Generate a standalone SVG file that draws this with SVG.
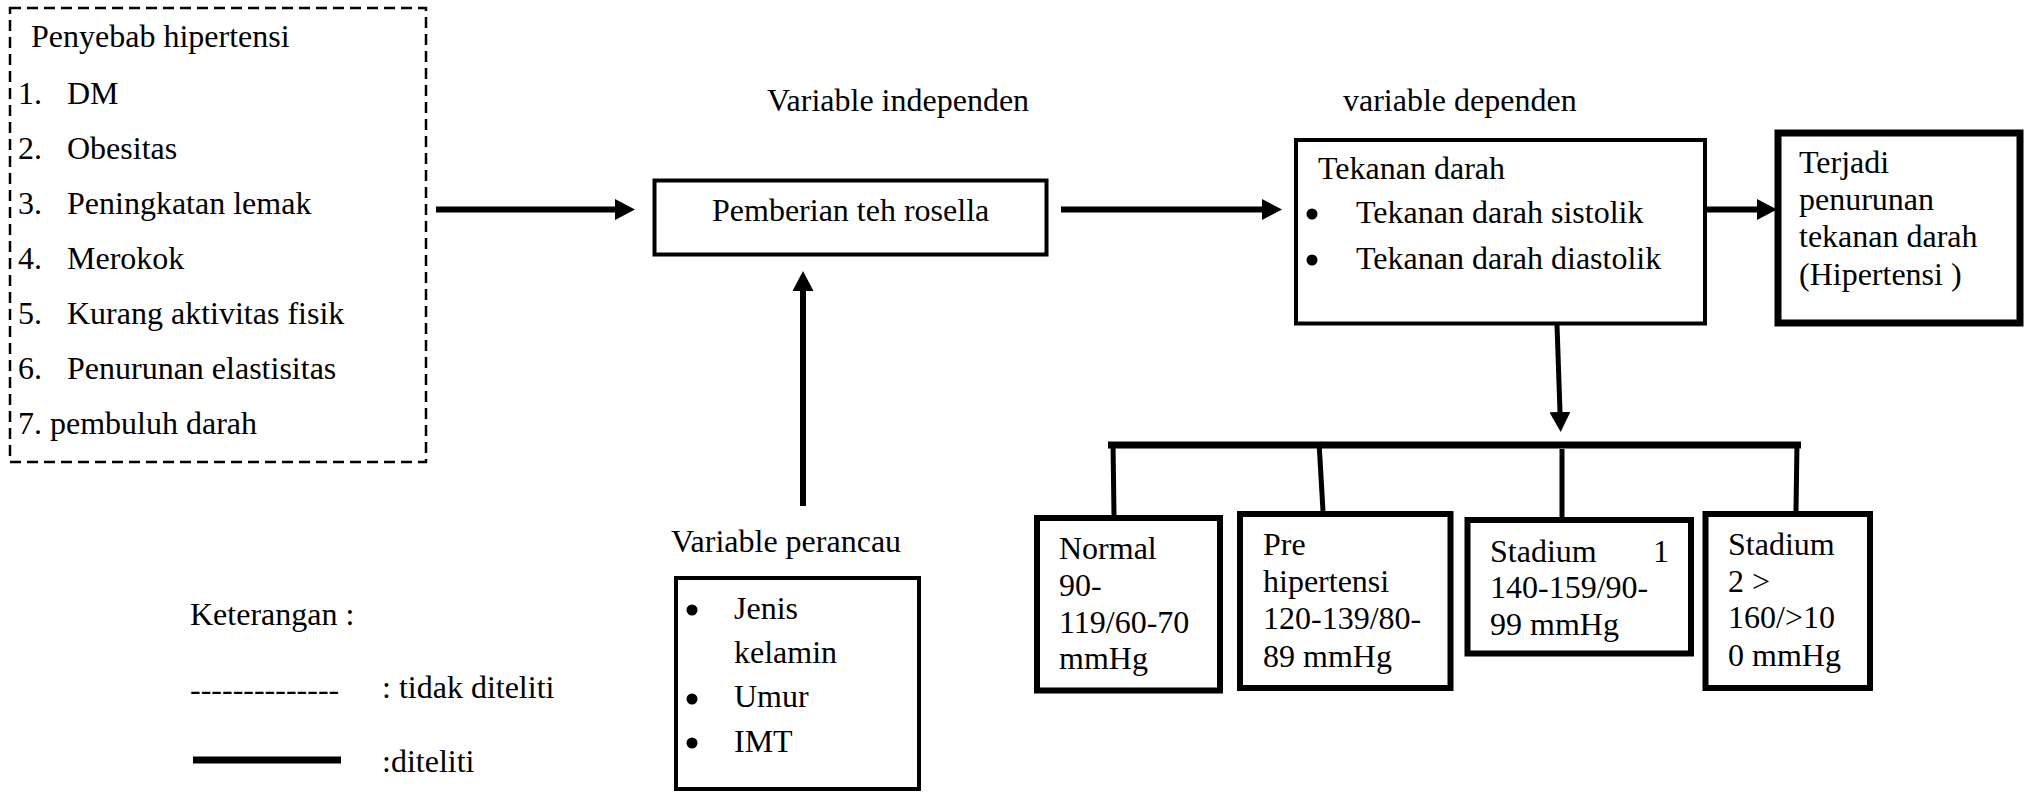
<svg xmlns="http://www.w3.org/2000/svg" width="2033" height="793" viewBox="0 0 2033 793">
<defs>
<style>
text{font-family:"Liberation Serif","Times New Roman",serif;font-size:32px;fill:#000}
.box{fill:#fff;stroke:#000;stroke-width:4}
.thick{fill:#fff;stroke:#000;stroke-width:6}
.dash{fill:#fff;stroke:#000;stroke-width:2.5;stroke-dasharray:11 6}
.conn{fill:none;stroke:#000;stroke-width:6}
.drop{fill:none;stroke:#000;stroke-width:5}
</style>
<marker id="ah" markerUnits="userSpaceOnUse" markerWidth="20" markerHeight="21" refX="0" refY="10.5" orient="auto" viewBox="0 0 20 21">
<path d="M0,0 L20,10.5 L0,21 z" fill="#000"/>
</marker>
</defs>
<rect width="2033" height="793" fill="#fff"/>

<g id="causes">
<rect class="dash" x="10" y="8" width="416" height="454"/>
<text x="31" y="47">Penyebab hipertensi</text>
<text x="18" y="104">1.</text><text x="67" y="104">DM</text>
<text x="18" y="159">2.</text><text x="67" y="159">Obesitas</text>
<text x="18" y="214">3.</text><text x="67" y="214">Peningkatan lemak</text>
<text x="18" y="269">4.</text><text x="67" y="269">Merokok</text>
<text x="18" y="324">5.</text><text x="67" y="324">Kurang aktivitas fisik</text>
<text x="18" y="379">6.</text><text x="67" y="379">Penurunan elastisitas</text>
<text x="18" y="434">7. pembuluh darah</text>
</g>

<g id="labels">
<text x="767" y="111">Variable independen</text>
<text x="1343" y="111">variable dependen</text>
<text x="671" y="552">Variable perancau</text>
</g>

<g id="pemberian">
<rect class="box" x="654.5" y="180.5" width="392" height="74"/>
<text x="712" y="221">Pemberian teh rosella</text>
</g>

<g id="tekanan">
<rect class="box" x="1296" y="140" width="409" height="183.5"/>
<text x="1318" y="179">Tekanan darah</text>
<circle cx="1312" cy="214" r="5.5"/>
<text x="1356" y="223">Tekanan darah sistolik</text>
<circle cx="1312" cy="260" r="5.5"/>
<text x="1356" y="269">Tekanan darah diastolik</text>
</g>

<g id="terjadi">
<rect x="1778" y="133" width="242" height="190" fill="#fff" stroke="#000" stroke-width="7"/>
<text x="1799" y="173">Terjadi</text>
<text x="1799" y="210">penurunan</text>
<text x="1799" y="247">tekanan darah</text>
<text x="1799" y="285">(Hipertensi )</text>
</g>

<g id="perancau">
<rect class="box" x="676" y="578" width="243" height="211"/>
<circle cx="692" cy="610" r="5.5"/>
<text x="734" y="619">Jenis</text>
<text x="734" y="663">kelamin</text>
<circle cx="692" cy="699" r="5.5"/>
<text x="734" y="707">Umur</text>
<circle cx="692" cy="743" r="5.5"/>
<text x="734" y="752">IMT</text>
</g>

<g id="connectors">
<line class="conn" x1="436" y1="209.5" x2="615" y2="209.5" marker-end="url(#ah)"/>
<line class="conn" x1="1061" y1="209.5" x2="1262" y2="209.5" marker-end="url(#ah)"/>
<line class="conn" x1="1705" y1="209.5" x2="1757" y2="209.5" marker-end="url(#ah)"/>
<line class="conn" x1="803" y1="506" x2="803" y2="291" marker-end="url(#ah)"/>
<line class="drop" x1="1557" y1="325" x2="1560" y2="412" marker-end="url(#ah)"/>
<line x1="1108" y1="445" x2="1801" y2="445" stroke="#000" stroke-width="7"/>
<line class="drop" x1="1113" y1="442" x2="1114" y2="515"/>
<line class="drop" x1="1319" y1="442" x2="1323" y2="511"/>
<line class="drop" x1="1562" y1="449" x2="1562" y2="517"/>
<line class="drop" x1="1797" y1="442" x2="1796" y2="511"/>
</g>

<g id="normal">
<rect class="thick" x="1037" y="518" width="183" height="172.5"/>
<text x="1059" y="559">Normal</text>
<text x="1059" y="596">90-</text>
<text x="1059" y="633">119/60-70</text>
<text x="1059" y="669">mmHg</text>
</g>

<g id="pre">
<rect class="thick" x="1240" y="514" width="210.5" height="174"/>
<text x="1263" y="555">Pre</text>
<text x="1263" y="592">hipertensi</text>
<text x="1263" y="629">120-139/80-</text>
<text x="1263" y="667">89 mmHg</text>
</g>

<g id="stadium1">
<rect class="thick" x="1467.5" y="520" width="223.5" height="133.5"/>
<text x="1490" y="562">Stadium</text>
<text x="1653" y="562">1</text>
<text x="1490" y="598">140-159/90-</text>
<text x="1490" y="635">99 mmHg</text>
</g>

<g id="stadium2">
<rect class="thick" x="1705.5" y="514" width="164.5" height="174"/>
<text x="1728" y="555">Stadium</text>
<text x="1728" y="592">2 &gt;</text>
<text x="1728" y="628">160/&gt;10</text>
<text x="1728" y="666">0 mmHg</text>
</g>

<g id="legend">
<text x="190" y="625">Keterangan :</text>
<text x="190" y="700">--------------</text>
<text x="382" y="698">: tidak diteliti</text>
<line x1="193" y1="760" x2="341" y2="760" stroke="#000" stroke-width="7"/>
<text x="382" y="772">:diteliti</text>
</g>
</svg>
